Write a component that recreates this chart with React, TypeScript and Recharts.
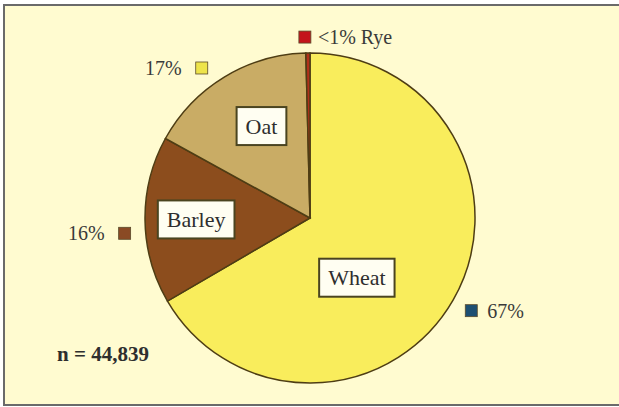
import React, { useLayoutEffect, useRef, useState } from "react";
import { PieChart, Pie, Cell } from "recharts";

const categories = ["Wheat", "Barley", "Oat", "Rye"];
const shares = [66.6, 16.4, 16.6, 0.4];
const pctLabels = ["67%", "16%", "17%", "<1% Rye"];
const showNameBox = [true, true, true, false];
const sampleLabel = "n = 44,839";

const sliceColors = ["#f9ed5c", "#8c4d1d", "#c9ac65", "#b0301a"];
const markerColors = ["#1d4f72", "#8a4a24", "#eee44a", "#c4141c"];

const LAYOUT: Record<string, { nameR: number; nameDA: number; pctR: number; pctDA: number }> = {
  Wheat: { nameR: 0.46, nameDA: -22, pctR: 186, pctDA: 0 },
  Barley: { nameR: 0.69, nameDA: 0, pctR: 186, pctDA: 4 },
  Oat: { nameR: 0.63, nameDA: -3.5, pctR: 185, pctDA: 4.5 },
  Rye: { nameR: 0.5, nameDA: 0, pctR: 181, pctDA: 0.9 },
};

const data = categories.map((name, i) => ({
  name,
  value: shares[i],
  pct: pctLabels[i],
  box: showNameBox[i],
}));

const RAD = Math.PI / 180;
const FONT = "'Liberation Serif', 'Times New Roman', serif";

function NameBox({ x, y, text }: { x: number; y: number; text: string }) {
  const ref = useRef<SVGTextElement>(null);
  const [w, setW] = useState(text.length * 11);
  useLayoutEffect(() => {
    if (ref.current) setW(ref.current.getComputedTextLength());
  }, [text]);
  const bw = w + 18;
  const bh = 38;
  return (
    <g>
      <rect x={x - bw / 2} y={y - bh / 2} width={bw} height={bh} fill="#fffef2" stroke="#4a4420" strokeWidth={2} />
      <text ref={ref} x={x} y={y} dy="0.35em" textAnchor="middle" fontFamily={FONT} fontSize={22} fill="#2e2e2e">
        {text}
      </text>
    </g>
  );
}

const renderLabel = (props: any) => {
  const { cx, cy, midAngle, outerRadius, index, payload } = props;
  const name = categories[index];
  const lay = LAYOUT[name];
  const pct = (payload && payload.pct) || pctLabels[index];
  const a1 = (midAngle + lay.nameDA) * RAD;
  const nx = cx + outerRadius * lay.nameR * Math.cos(a1);
  const ny = cy - outerRadius * lay.nameR * Math.sin(a1);
  const a2 = (midAngle + lay.pctDA) * RAD;
  const px = cx + lay.pctR * Math.cos(a2);
  const py = cy - lay.pctR * Math.sin(a2);
  const rightSide = Math.cos(a2) > -0.1;
  return (
    <g>
      {showNameBox[index] && <NameBox x={nx} y={ny} text={name} />}
      <rect x={px - 6} y={py - 6} width={12} height={12} fill={markerColors[index]} stroke="#5a4a2a" strokeWidth={0.8} />
      <text
        x={rightSide ? px + (index === 3 ? 13 : 16) : px - 20}
        y={py}
        dy="0.35em"
        textAnchor={rightSide ? "start" : "end"}
        fontFamily={FONT}
        fontSize={20}
        fill="#3a3a3a"
      >
        {pct}
      </text>
    </g>
  );
};

export default function App() {
  return (
    <div style={{ position: "absolute", left: 0, top: 0, width: 619, height: 407, background: "#ffffff", overflow: "hidden" }}>
      <div
        style={{
          position: "absolute",
          left: 3,
          top: 4,
          width: 630,
          height: 398,
          border: "2px solid #6a6a6a",
          background: "#fffbd0",
        }}
      />
      <div style={{ position: "absolute", left: 0, top: 0 }}>
        <PieChart width={619} height={407} margin={{ top: 0, right: 0, bottom: 0, left: 0 }}>
          <Pie
            data={data}
            dataKey="value"
            nameKey="name"
            cx={310}
            cy={218}
            outerRadius={165}
            startAngle={90}
            endAngle={-270}
            stroke="#4e3d14"
            strokeWidth={1.5}
            label={renderLabel}
            labelLine={false}
            isAnimationActive={false}
          >
            {data.map((d, i) => (
              <Cell key={d.name} fill={sliceColors[i]} />
            ))}
          </Pie>
        </PieChart>
      </div>
      <div
        style={{
          position: "absolute",
          left: 57,
          top: 342,
          fontFamily: FONT,
          fontWeight: "bold",
          fontSize: 21,
          color: "#2e2e2e",
          whiteSpace: "nowrap",
        }}
      >
        {sampleLabel}
      </div>
    </div>
  );
}
